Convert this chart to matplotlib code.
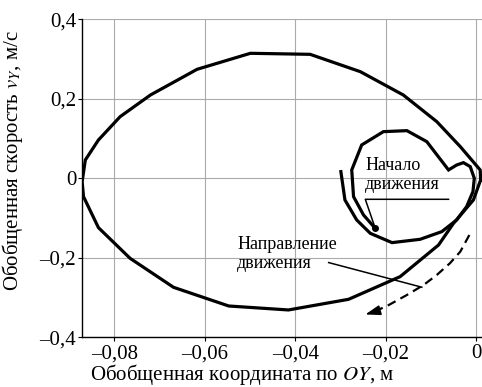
import matplotlib
matplotlib.use("Agg")
import matplotlib.pyplot as plt

plt.rcParams['font.family'] = ['Liberation Serif', 'DejaVu Serif']
plt.rcParams['mathtext.fontset'] = 'stix'

# outer loop of the phase trajectory (closed)
outer_x = [0.0010, -0.0006, -0.0050, -0.0083, -0.0168, -0.0282, -0.0415, -0.0547,
           -0.0669, -0.0765, -0.0835, -0.0868, -0.0871, -0.0864, -0.0835, -0.0787,
           -0.0720, -0.0617, -0.0499, -0.0367, -0.0256, -0.0161, -0.0087, -0.0035,
           0.0009, 0.0010]
outer_y = [-0.004, -0.0545, -0.1132, -0.1677, -0.2474, -0.3044, -0.3312, -0.3212,
           -0.2742, -0.2013, -0.1241, -0.0461, -0.0084, 0.0461, 0.0964, 0.1551,
           0.2096, 0.2742, 0.3145, 0.3119, 0.2683, 0.2096, 0.1426, 0.0797,
           0.0210, -0.004]

# inner spiral, from the start point
inner_x = [-0.0223, -0.0249, -0.0271, -0.0275, -0.0253, -0.0205, -0.0153, -0.0109,
           -0.0061, -0.0043, -0.0028, -0.0013, -0.0004, -0.0007, -0.0021, -0.0043,
           -0.0076, -0.0124, -0.0186, -0.0234, -0.0264, -0.0290, -0.0299]
inner_y = [-0.1258, -0.0922, -0.0461, 0.0210, 0.0839, 0.1174, 0.1199, 0.0922,
           0.0210, 0.0335, 0.0394, 0.0294, 0.0, -0.0335, -0.0713, -0.1048,
           -0.1342, -0.1535, -0.1618, -0.1384, -0.1048, -0.0545, 0.0168]

# dashed direction arrow
dash_x = [-0.0015, -0.0035, -0.0058, -0.0087, -0.0116, -0.0153, -0.0197, -0.0231]
dash_y = [-0.1426, -0.1845, -0.2138, -0.2432, -0.2683, -0.2935, -0.3212, -0.3379]
arrow_tip = (-0.0245, -0.3425)

xticks = [-0.08, -0.06, -0.04, -0.02, 0.0]
xtick_labels = ['–0,08', '–0,06', '–0,04', '–0,02', '0']
yticks = [-0.4, -0.2, 0.0, 0.2, 0.4]
ytick_labels = ['–0,4', '–0,2', '0', '0,2', '0,4']

fig = plt.figure(figsize=(4.82, 3.87), dpi=100)
ax = fig.add_axes([0.1695, 0.1284, 1.0 - 0.1695, 0.9501 - 0.1284])

ax.plot(outer_x, outer_y, color='black', lw=2.3, solid_joinstyle='miter', zorder=3)
ax.plot(inner_x, inner_y, color='black', lw=2.3, solid_joinstyle='miter', zorder=3)
ax.plot(dash_x, dash_y, color='black', lw=1.6, dashes=(4, 2.5), zorder=3)
ax.annotate('', xy=arrow_tip, xytext=(dash_x[-1], dash_y[-1]),
            arrowprops=dict(arrowstyle='-|>,head_length=0.9,head_width=0.3',
                            color='black', lw=1.2, shrinkA=0, shrinkB=0))

# start point label
ax.plot([inner_x[0]], [inner_y[0]], 'o', color='black', ms=4, zorder=4)
ax.plot([-0.0061, -0.0245, inner_x[0]], [-0.0528, -0.0528, inner_y[0]],
        color='black', lw=1.1, zorder=3)
ax.text(-0.0245, 0.054, 'Начало\nдвижения', fontsize=13, va='top', ha='left',
        linespacing=1.2, zorder=5)

# direction label
ax.plot([-0.0326, -0.0120], [-0.212, -0.274], color='black', lw=1.1, zorder=3)
ax.text(-0.0528, -0.144, 'Направление\nдвижения', fontsize=13, va='top', ha='left',
        linespacing=1.2, zorder=5)

ax.set_xlim(-0.0872, 0.0013)
ax.set_ylim(-0.4, 0.4)
ax.set_xticks(xticks)
ax.set_xticklabels(xtick_labels)
ax.set_yticks(yticks)
ax.set_yticklabels(ytick_labels)
ax.tick_params(labelsize=15, length=3, width=0.8, pad=1)
ax.tick_params(axis='x', pad=2)
ax.grid(True, color='#aaaaaa', lw=0.8)
ax.spines['top'].set_visible(False)
ax.spines['right'].set_visible(False)
ax.spines['left'].set_linewidth(1.0)
ax.spines['bottom'].set_linewidth(1.0)

ax.set_xlabel('Обобщенная координата по $OY$, м', fontsize=15)
ax.set_ylabel('Обобщенная скорость $v_Y$, м/с', fontsize=15)
ax.xaxis.set_label_coords(0.40, -0.078)
ax.yaxis.set_label_coords(-0.142, 0.557)

fig.savefig('out.png', dpi=100)
